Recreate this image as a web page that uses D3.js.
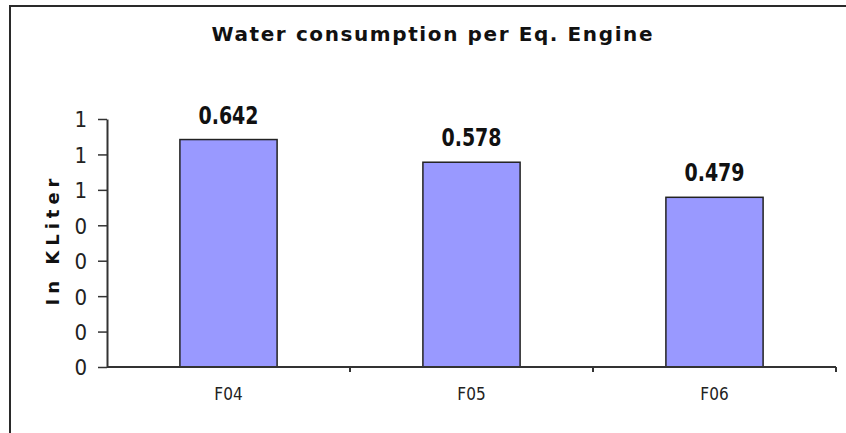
<!DOCTYPE html>
<html>
<head>
<meta charset="utf-8">
<script src="https://cdn.jsdelivr.net/npm/d3@7"></script>
<style>
  body { margin: 0; background: #fff; }
  svg { display: block; }
</style>
</head>
<body>
<svg width="846" height="433"></svg>
<script>
// Data
const categories = ['F04', 'F05', 'F06']
const values = [0.642, 0.578, 0.479]
const valueLabels = ['0.642', '0.578', '0.479']
const yTicks = [0, 0.1, 0.2, 0.3, 0.4, 0.5, 0.6, 0.7]
const yTickLabels = ['0', '0', '0', '0', '0', '1', '1', '1']

// Set up
const svg = d3.select('svg')
const plotLeft = 107, plotRight = 836, plotTop = 119, plotBottom = 367
const narrow = '"DejaVu Sans Condensed", "Liberation Sans Narrow", sans-serif'

const x = d3.scaleBand()
    .domain(categories)
    .range([plotLeft, plotRight])
    .paddingInner(0.6)
    .paddingOuter(0.3)

const y = d3.scaleLinear()
    .domain([0, 0.7])
    .range([plotBottom, plotTop])

// outer frame (only left and top edges show)
svg.append('path')
    .attr('d', 'M10,440V6H850')
    .attr('fill', 'none')
    .attr('stroke', '#2a2a2a')
    .attr('stroke-width', 2)

// title
svg.append('text')
    .attr('x', 432)
    .attr('y', 41)
    .attr('text-anchor', 'middle')
    .attr('textLength', 441)
    .attr('lengthAdjust', 'spacing')
    .style('font-family', '"DejaVu Sans", Verdana, sans-serif')
    .style('font-weight', 'bold')
    .style('font-size', '20px')
    .style('fill', '#111')
    .text('Water consumption per Eq. Engine')

// bars
svg.selectAll('rect.bar')
    .data(values)
    .join('rect')
    .attr('class', 'bar')
    .attr('x', (d, i) => x(categories[i]))
    .attr('y', d => y(d))
    .attr('width', x.bandwidth())
    .attr('height', d => y(0) - y(d))
    .attr('fill', '#9999ff')
    .attr('stroke', '#222')
    .attr('stroke-width', 1.5)

// value labels
svg.selectAll('text.val')
    .data(values)
    .join('text')
    .attr('class', 'val')
    .attr('x', (d, i) => x(categories[i]) + x.bandwidth() / 2)
    .attr('y', d => y(d) - 16)
    .attr('text-anchor', 'middle')
    .attr('textLength', 60)
    .attr('lengthAdjust', 'spacingAndGlyphs')
    .style('font-family', narrow)
    .style('font-weight', 'bold')
    .style('font-size', '24px')
    .style('fill', '#111')
    .text((d, i) => valueLabels[i])

// y axis
const yAxis = d3.axisLeft(y)
    .tickValues(yTicks)
    .tickFormat((d, i) => yTickLabels[i])
    .tickSize(9)
    .tickSizeOuter(0)
    .tickPadding(11)

const gy = svg.append('g')
    .attr('transform', `translate(${plotLeft},0)`)
    .call(yAxis)
gy.select('.domain').attr('stroke', '#333').attr('stroke-width', 2)
gy.selectAll('.tick line').attr('stroke', '#333').attr('stroke-width', 1.5)
gy.selectAll('.tick text')
    .attr('dy', '0.36em')
    .style('font-family', narrow)
    .style('font-size', '22px')
    .style('fill', '#222')

// x axis, ticks between categories
const gx = svg.append('g')
    .attr('transform', `translate(0,${plotBottom})`)
gx.append('line')
    .attr('x1', plotLeft).attr('x2', plotRight)
    .attr('stroke', '#333').attr('stroke-width', 2)
gx.selectAll('line.tick')
    .data(categories)
    .join('line')
    .attr('class', 'tick')
    .attr('x1', d => x(d) + x.bandwidth() / 2 + x.step() / 2)
    .attr('x2', d => x(d) + x.bandwidth() / 2 + x.step() / 2)
    .attr('y1', 0).attr('y2', 5)
    .attr('stroke', '#333').attr('stroke-width', 2)
gx.selectAll('text')
    .data(categories)
    .join('text')
    .attr('x', d => x(d) + x.bandwidth() / 2)
    .attr('y', 33)
    .attr('text-anchor', 'middle')
    .style('font-family', narrow)
    .style('font-size', '17px')
    .style('fill', '#222')
    .text(d => d)

// y axis title
svg.append('text')
    .attr('transform', 'translate(59,242) rotate(-90)')
    .attr('text-anchor', 'middle')
    .attr('textLength', 127)
    .attr('lengthAdjust', 'spacing')
    .style('font-family', '"DejaVu Sans", sans-serif')
    .style('font-weight', 'bold')
    .style('font-size', '18px')
    .style('fill', '#111')
    .text('In KLiter')
</script>
</body>
</html>
